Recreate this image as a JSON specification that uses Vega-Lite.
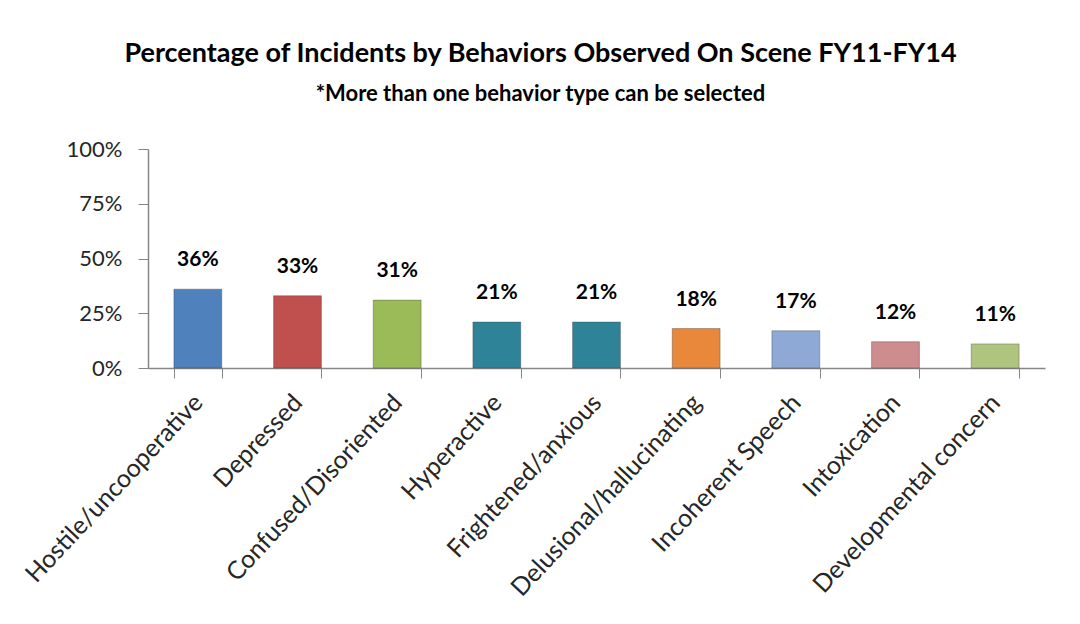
{
  "$schema": "https://vega.github.io/schema/vega-lite/v6.json",
  "autosize": {"type": "none"},
  "width": 897,
  "height": 219,
  "padding": {"left": 148, "top": 149, "right": 35, "bottom": 256},
  "background": "white",
  "title": {
    "text": "Percentage of Incidents by Behaviors Observed On Scene FY11-FY14",
    "subtitle": "*More than one behavior type can be selected",
    "anchor": "middle",
    "dx": -56,
    "offset": 32,
    "font": "Lato",
    "fontSize": 27,
    "fontWeight": "bold",
    "color": "#000000",
    "subtitleFont": "Lato",
    "subtitleFontSize": 22,
    "subtitleFontWeight": "bold",
    "subtitleColor": "#000000",
    "subtitlePadding": 16
  },
  "data": {
    "values": [
      {"behavior": "Hostile/uncooperative", "pct": 0.36, "label": "36%", "color": "#4F81BD"},
      {"behavior": "Depressed", "pct": 0.33, "label": "33%", "color": "#C0504D"},
      {"behavior": "Confused/Disoriented", "pct": 0.31, "label": "31%", "color": "#9BBB59"},
      {"behavior": "Hyperactive", "pct": 0.21, "label": "21%", "color": "#2F8399"},
      {"behavior": "Frightened/anxious", "pct": 0.21, "label": "21%", "color": "#2F8399"},
      {"behavior": "Delusional/hallucinating", "pct": 0.18, "label": "18%", "color": "#E9883A"},
      {"behavior": "Incoherent Speech", "pct": 0.17, "label": "17%", "color": "#8EA9D6"},
      {"behavior": "Intoxication", "pct": 0.12, "label": "12%", "color": "#CD8C8E"},
      {"behavior": "Developmental concern", "pct": 0.11, "label": "11%", "color": "#AFC47E"}
    ]
  },
  "encoding": {
    "x": {
      "field": "behavior",
      "type": "nominal",
      "sort": null,
      "scale": {"paddingInner": 0.52, "paddingOuter": 0.26},
      "axis": {
        "title": null,
        "labelAngle": -47,
        "labelAlign": "right",
        "labelBaseline": "middle",
        "labelFont": "Lato",
        "labelFontSize": 25,
        "labelColor": "#262626",
        "labelPadding": 20,
        "tickBand": "extent",
        "tickSize": 10,
        "tickColor": "#868686",
        "domainColor": "#868686",
        "domainWidth": 1.5,
        "labelLimit": 400
      }
    },
    "y": {
      "field": "pct",
      "type": "quantitative",
      "scale": {"domain": [0, 1]},
      "axis": {
        "title": null,
        "values": [0, 0.25, 0.5, 0.75, 1],
        "format": ".0%",
        "grid": false,
        "labelFont": "Lato",
        "labelFontSize": 22,
        "labelColor": "#262626",
        "labelPadding": 16,
        "tickSize": 10,
        "tickColor": "#868686",
        "domainColor": "#868686",
        "domainWidth": 1.5
      }
    }
  },
  "layer": [
    {
      "mark": {"type": "bar", "stroke": "#333333", "strokeOpacity": 0.35, "strokeWidth": 1},
      "encoding": {
        "color": {"field": "color", "type": "nominal", "scale": null}
      }
    },
    {
      "mark": {"type": "text", "baseline": "bottom", "dy": -19, "font": "Lato", "fontSize": 21, "fontWeight": "bold", "color": "#000000"},
      "encoding": {
        "text": {"field": "label"}
      }
    }
  ],
  "config": {"view": {"stroke": null}}
}
